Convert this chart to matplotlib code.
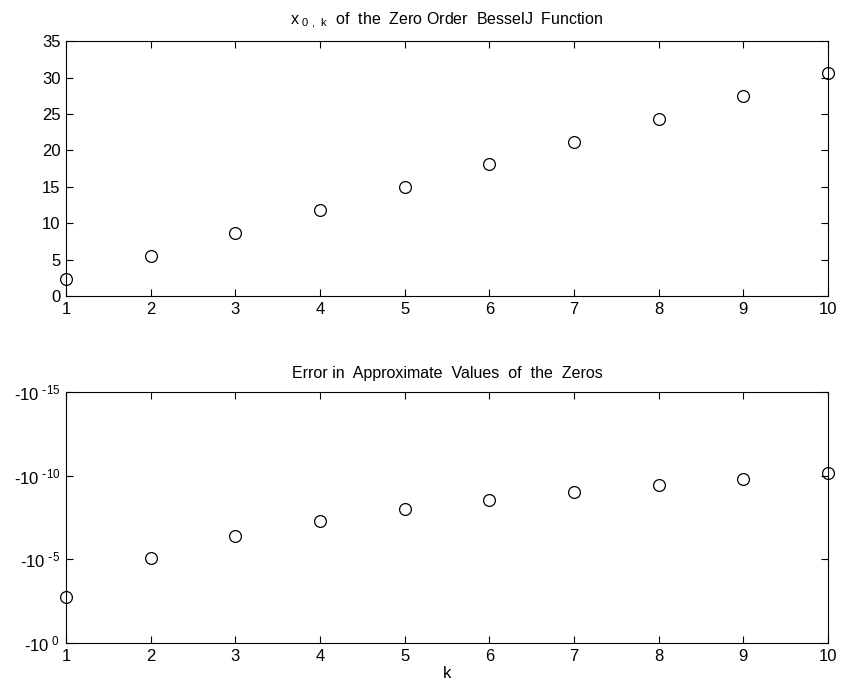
import numpy as np
import matplotlib
matplotlib.use('Agg')
import matplotlib.pyplot as plt
from matplotlib.ticker import NullLocator

plt.rcParams['font.family'] = ['Liberation Sans', 'DejaVu Sans']
plt.rcParams['mathtext.default'] = 'regular'

# data
k = [1, 2, 3, 4, 5, 6, 7, 8, 9, 10]
zeros_j0 = [2.4048, 5.5201, 8.6537, 11.7915, 14.9309, 18.0711, 21.2116, 24.3525, 27.4935, 30.6346]
err_exp = [-2.78, -5.07, -6.37, -7.28, -7.99, -8.56, -9.05, -9.47, -9.82, -10.18]
err = [10.0 ** e for e in err_exp]

ytick_top = [0, 5, 10, 15, 20, 25, 30, 35]
ytick_bot = [1e0, 1e-5, 1e-10, 1e-15]
ytick_bot_labels = ['-10$^{\\ 0}$', '-10$^{\\ \\text{-}5}$', '-10$^{\\ \\text{-}10}$', '-10$^{\\ \\text{-}15}$']

fig = plt.figure(figsize=(8.41, 6.87), dpi=100)
ax1 = fig.add_axes([0.0785, 0.569, 0.906, 0.371])
ax2 = fig.add_axes([0.0785, 0.064, 0.906, 0.3654])

def style(ax):
    ax.tick_params(direction='in', length=5, width=0.8, top=True, right=True,
                   labelsize=12, pad=4)
    for s in ax.spines.values():
        s.set_linewidth(0.8)
    ax.set_xlim(1, 10)
    ax.set_xticks(k)

# top panel
ax1.plot(k, zeros_j0, 'o', mfc='none', mec='black', ms=8.5, mew=0.9, clip_on=False)
style(ax1)
ax1.set_ylim(0, 35)
ax1.set_yticks(ytick_top)
ax1.set_title(r'x$_{\ 0\ ,\ k}$  of  the  Zero Order  BesselJ  Function', fontsize=11.5, pad=12)

# bottom panel
ax2.plot(k, err, 'o', mfc='none', mec='black', ms=8.5, mew=0.9, clip_on=False)
ax2.set_yscale('log')
ax2.set_ylim(1e0, 1e-15)
style(ax2)
ax2.set_yticks(ytick_bot)
ax2.set_yticklabels(ytick_bot_labels)
ax2.yaxis.set_minor_locator(NullLocator())
ax2.set_title('Error in  Approximate  Values  of  the  Zeros', fontsize=11.5, pad=10)
ax2.set_xlabel('k', fontsize=12, labelpad=2)

plt.savefig('out.png', dpi=100)
